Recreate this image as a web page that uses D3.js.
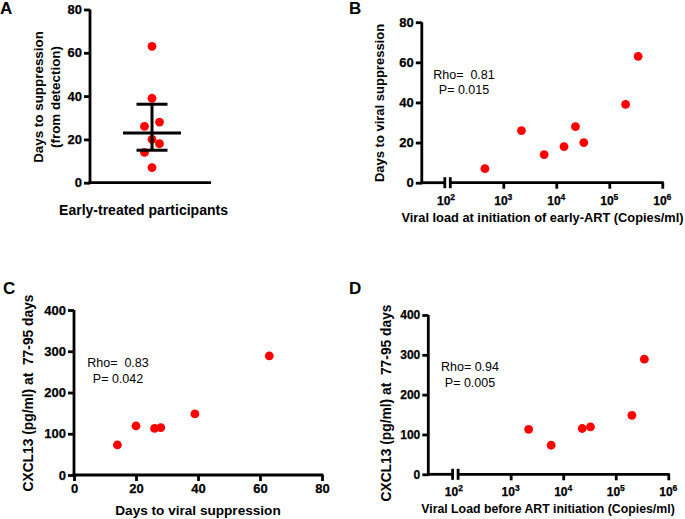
<!DOCTYPE html>
<html>
<head>
<meta charset="utf-8">
<script src="https://cdn.jsdelivr.net/npm/d3@7"></script>
<style>
  html, body { margin: 0; padding: 0; background: #fff; }
  svg { display: block; font-family: "Liberation Sans", Arial, Helvetica, sans-serif; }
  text { white-space: pre; }
</style>
</head>
<body>
<svg id="chart" width="685" height="519"></svg>
<script>
// ---------------- DATA ----------------
// Panel A: days to suppression (from detection), early-treated participants
const daysToSuppressionA = [63, 39, 28, 26, 20, 18, 14, 7];
const categoryA = ["Early-treated participants"];
const yTicksA = [0, 20, 40, 60, 80];

// Panel B: viral load at early-ART initiation vs days to viral suppression
const viralLoadB = [450, 2200, 5900, 14000, 23000, 33000, 203000, 350000];
const daysB = [7, 26, 14, 18, 28, 20, 39, 63];
const statsB = ["Rho=  0.81", "P= 0.015"];

// Panel C: days to viral suppression vs CXCL13 at 77-95 days
const daysC = [14, 20, 26, 28, 39, 63];
const cxcl13C = [73, 119, 113, 115, 148, 289];
const statsC = ["Rho=  0.83", "P= 0.042"];

// Panel D: viral load before ART initiation vs CXCL13 at 77-95 days
const viralLoadD = [2200, 5900, 23000, 33000, 203000, 350000];
const cxcl13D = [113, 73, 115, 119, 148, 289];
const statsD = ["Rho= 0.94", "P= 0.005"];

const logTicks = [2, 3, 4, 5, 6];           // exponents: 10^2 ... 10^6
const daysTicks = [0, 20, 40, 60, 80];
const cxclTicks = [0, 100, 200, 300, 400];

// ---------------- DRAWING ----------------
const svg = d3.select("#chart");
const RED = "#ff0000";
const R = 4.4;
const TICK_FONT = "13px";
const LOG_FONT = "12px";
const AXW = 2.8;

function styleTickText(sel, size) {
  sel.attr("fill", "#000").attr("font-weight", "bold").attr("font-size", size)
    .attr("font-family", "Liberation Sans, Arial, sans-serif")
    .style("font-size", size).style("font-weight", "bold")
    .attr("stroke", "#000").attr("stroke-width", 0.25);
}

function yAxis(g, y, ticks, x0, size) {
  const ax = g.append("g").attr("transform", `translate(${x0},0)`)
    .call(d3.axisLeft(y).tickValues(ticks).tickSize(6).tickPadding(2).tickFormat(d3.format("d")));
  ax.select(".domain").remove();
  ax.selectAll(".tick line").attr("stroke", "#000").attr("stroke-width", AXW);
  styleTickText(ax.selectAll(".tick text"), size || TICK_FONT);
  g.append("line").attr("x1", x0).attr("x2", x0)
    .attr("y1", y.range()[1]).attr("y2", y.range()[0] + AXW / 2)
    .attr("stroke", "#000").attr("stroke-width", AXW);
}

function xAxisLinear(g, x, ticks, y0) {
  const ax = g.append("g").attr("transform", `translate(0,${y0})`)
    .call(d3.axisBottom(x).tickValues(ticks).tickSize(6).tickPadding(3).tickFormat(d3.format("d")));
  ax.select(".domain").remove();
  ax.selectAll(".tick line").attr("stroke", "#000").attr("stroke-width", AXW);
  styleTickText(ax.selectAll(".tick text"), TICK_FONT);
  g.append("line").attr("x1", x.range()[0] - AXW / 2).attr("x2", x.range()[1] + AXW / 2)
    .attr("y1", y0).attr("y2", y0).attr("stroke", "#000").attr("stroke-width", AXW);
}

function xAxisLogBroken(g, x, y0, xAxisStart) {
  const p100 = x(100);
  const brk = p100 - 5.5;
  g.append("line").attr("x1", xAxisStart - AXW / 2).attr("x2", brk).attr("y1", y0).attr("y2", y0)
    .attr("stroke", "#000").attr("stroke-width", AXW);
  g.append("line").attr("x1", p100).attr("x2", x.range()[1] + AXW / 2).attr("y1", y0).attr("y2", y0)
    .attr("stroke", "#000").attr("stroke-width", AXW);
  [brk, p100].forEach(px => {
    g.append("line").attr("x1", px).attr("x2", px).attr("y1", y0 - 5.5).attr("y2", y0 + 5.5)
      .attr("stroke", "#000").attr("stroke-width", AXW);
  });
  const ax = g.append("g").attr("transform", `translate(0,${y0})`)
    .call(d3.axisBottom(x).tickValues(logTicks.slice(1).map(e => Math.pow(10, e))).tickSize(6).tickFormat(""));
  ax.select(".domain").remove();
  ax.selectAll(".tick line").attr("stroke", "#000").attr("stroke-width", AXW);
  logTicks.forEach(e => {
    const px = e === 2 ? (brk + p100) / 2 - 1.5 : x(Math.pow(10, e));
    const t = g.append("text").attr("x", px).attr("y", y0 + 22)
      .attr("text-anchor", "middle").style("font-size", LOG_FONT).style("font-weight", "bold")
      .attr("stroke", "#000").attr("stroke-width", 0.25);
    t.append("tspan").text("10");
    t.append("tspan").attr("dy", -5).style("font-size", "8.5px").text(e);
  });
}

function dots(g, xs, ys, x, y) {
  g.selectAll(null).data(xs.map((v, i) => [v, ys[i]])).enter().append("circle")
    .attr("cx", d => x(d[0])).attr("cy", d => y(d[1])).attr("r", R).attr("fill", RED);
}

function yTitle(g, lines, cx, cy, size) {
  lines.forEach((ln, i) => {
    g.append("text").attr("transform", `translate(${cx[i]},${cy}) rotate(-90)`)
      .attr("text-anchor", "middle").attr("dy", "0.35em")
      .style("font-size", size).style("font-weight", "bold").text(ln);
  });
}

function xTitle(g, text, cx, baseline, size) {
  g.append("text").attr("x", cx).attr("y", baseline).attr("text-anchor", "middle")
    .style("font-size", size).style("font-weight", "bold").text(text);
}

function stats(g, lines, cx, baseline) {
  lines.forEach((ln, i) => {
    g.append("text").attr("x", cx).attr("y", baseline + i * 15.5).attr("text-anchor", "middle")
      .style("font-size", "12.5px").style("fill", "#000").text(ln);
  });
}

function letter(txt, x, y) {
  svg.append("text").attr("x", x).attr("y", y).style("font-size", "17px").style("font-weight", "bold").text(txt);
}

// ---------- Panel A ----------
{
  const g = svg.append("g");
  const y = d3.scaleLinear().domain([0, 80]).range([182.7, 9.5]);
  const x = d3.scalePoint().domain(categoryA).range([90, 214]).padding(0.5);
  const y0 = y(0);
  yAxis(g, y, yTicksA, 90);
  g.append("line").attr("x1", 90 - AXW / 2).attr("x2", 211).attr("y1", y0).attr("y2", y0)
    .attr("stroke", "#000").attr("stroke-width", AXW);

  // median & interquartile range (GraphPad (n+1)p method)
  const s = daysToSuppressionA.slice().sort(d3.ascending);
  const q = p => {
    const pos = (s.length + 1) * p - 1;
    const lo = Math.floor(pos), f = pos - lo;
    return s[lo] + f * (s[lo + 1] - s[lo]);
  };
  const med = q(0.5), q1 = q(0.25), q3 = q(0.75);
  const cx = x(categoryA[0]);

  // dodge overlapping points horizontally
  const offsets = new Array(s.length).fill(0);
  for (let i = 0; i < s.length - 1; i++) {
    if (Math.abs(y(s[i]) - y(s[i + 1])) < 2 * R + 0.2 && offsets[i] === 0 && offsets[i + 1] === 0) {
      offsets[i] = -7.5; offsets[i + 1] = 7.5;
    }
  }
  g.selectAll(null).data(d3.range(s.length)).enter().append("circle")
    .attr("cx", i => cx + offsets[i]).attr("cy", i => y(s[i])).attr("r", R).attr("fill", RED);

  const w = 3;
  g.append("line").attr("x1", cx).attr("x2", cx).attr("y1", y(q3)).attr("y2", y(q1)).attr("stroke", "#000").attr("stroke-width", w);
  g.append("line").attr("x1", cx - 29).attr("x2", cx + 29).attr("y1", y(med)).attr("y2", y(med)).attr("stroke", "#000").attr("stroke-width", w);
  [q1, q3].forEach(v => g.append("line").attr("x1", cx - 15.5).attr("x2", cx + 15.5).attr("y1", y(v)).attr("y2", y(v))
    .attr("stroke", "#000").attr("stroke-width", w));

  yTitle(g, ["Days to suppression", "(from detection)"], [38, 55], 97, "13.4px");
  xTitle(g, categoryA[0], 143.5, 215, "14px");
  letter("A", 0, 14);
}

// ---------- Panel B ----------
{
  const g = svg.append("g");
  const y = d3.scaleLinear().domain([0, 80]).range([182.7, 22.2]);
  const x = d3.scaleLog().domain([1e2, 1e6]).range([450.3, 662.3]);
  yAxis(g, y, daysTicks, 421.8);
  xAxisLogBroken(g, x, y(0), 421.8);
  dots(g, viralLoadB, daysB, x, y);
  yTitle(g, ["Days to viral suppression"], [379], 103, "13px");
  xTitle(g, "Viral load at initiation of early-ART (Copies/ml)", 542.5, 222, "12.8px");
  stats(g, statsB, 464, 78.5);
  letter("B", 349, 14);
}

// ---------- Panel C ----------
{
  const g = svg.append("g");
  const y = d3.scaleLinear().domain([0, 400]).range([475, 310]);
  const x = d3.scaleLinear().domain([0, 80]).range([74, 322]);
  yAxis(g, y, cxclTicks, 74);
  xAxisLinear(g, x, daysTicks, y(0));
  dots(g, daysC, cxcl13C, x, y);
  yTitle(g, ["CXCL13 (pg/ml) at  77-95 days"], [28], 393, "13.8px");
  xTitle(g, "Days to viral suppression", 198, 515, "13.6px");
  stats(g, statsC, 118, 367);
  letter("C", 3, 294);
}

// ---------- Panel D ----------
{
  const g = svg.append("g");
  const y = d3.scaleLinear().domain([0, 400]).range([474.3, 315]);
  const x = d3.scaleLog().domain([1e2, 1e6]).range([458.1, 668.3]);
  yAxis(g, y, cxclTicks, 428.3, "12px");
  xAxisLogBroken(g, x, y(0), 428.3);
  dots(g, viralLoadD, cxcl13D, x, y);
  yTitle(g, ["CXCL13 (pg/ml) at  77-95 days"], [386.5], 403, "13.8px");
  xTitle(g, "Viral Load before ART initiation (Copies/ml)", 548, 513, "12.3px");
  stats(g, statsD, 470, 371);
  letter("D", 349, 294);
}
</script>
</body>
</html>
